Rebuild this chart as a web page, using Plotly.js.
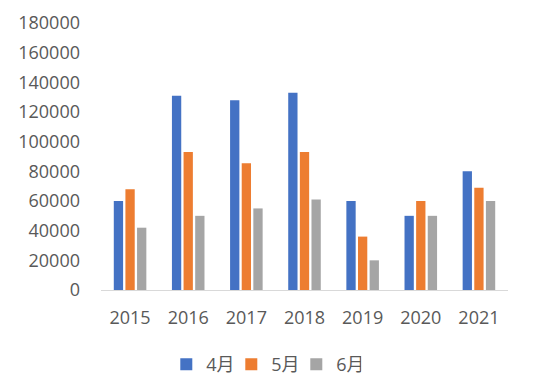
<!DOCTYPE html>
<html>
<head>
<meta charset="utf-8">
<script src="https://cdn.plot.ly/plotly-3.0.1.min.js"></script>
<style>html,body{margin:0;padding:0;background:#fff;}#chart{width:550px;height:388px;}</style>
</head>
<body>
<div id="chart"></div>
<script>
const years = ['2015','2016','2017','2018','2019','2020','2021'];
const seriesNames = ['4月','5月','6月'];
const april = [60000,131000,128000,133000,60000,50000,80000];
const may = [68000,93000,85500,93000,36000,60000,69000];
const june = [42000,50000,55000,61000,20000,50000,60000];
const yTicks = [0,20000,40000,60000,80000,100000,120000,140000,160000,180000];
const colors = ['#4472C4','#ED7D31','#A5A5A5'];

const traces = [april, may, june].map((vals, i) => ({
  type: 'bar',
  name: seriesNames[i],
  x: years,
  y: vals,
  marker: {color: colors[i]},
  hoverinfo: 'x+y'
}));

const layout = {
  width: 550, height: 388,
  margin: {l: 101, r: 42, t: 23, b: 98, autoexpand: false},
  paper_bgcolor: '#fff', plot_bgcolor: '#fff',
  font: {family: '"Open Sans", "Noto Sans CJK SC", sans-serif', size: 18, color: '#595959'},
  barmode: 'group',
  bargap: 0.4,
  bargroupgap: 0.2,
  xaxis: {
    type: 'category',
    showline: true, linecolor: '#D9D9D9', linewidth: 1,
    ticks: '', showgrid: false, zeroline: false,
    ticklabelstandoff: 11,
    tickfont: {size: 18, color: '#595959'}
  },
  yaxis: {
    range: [0, 180000],
    tickvals: yTicks,
    ticktext: yTicks.map(String),
    showgrid: false, zeroline: false, showline: false,
    ticks: '', ticklabelstandoff: 20,
    tickfont: {size: 18, color: '#595959'}
  },
  showlegend: true,
  legend: {
    orientation: 'h', x: 0.40, xanchor: 'center', y: -0.21, yanchor: 'top',
    font: {size: 18, color: '#595959'},
    itemwidth: 30,
    entrywidth: 20, entrywidthmode: 'pixels'
  }
};

Plotly.newPlot('chart', traces, layout, {displayModeBar: false, staticPlot: true});
</script>
</body>
</html>
